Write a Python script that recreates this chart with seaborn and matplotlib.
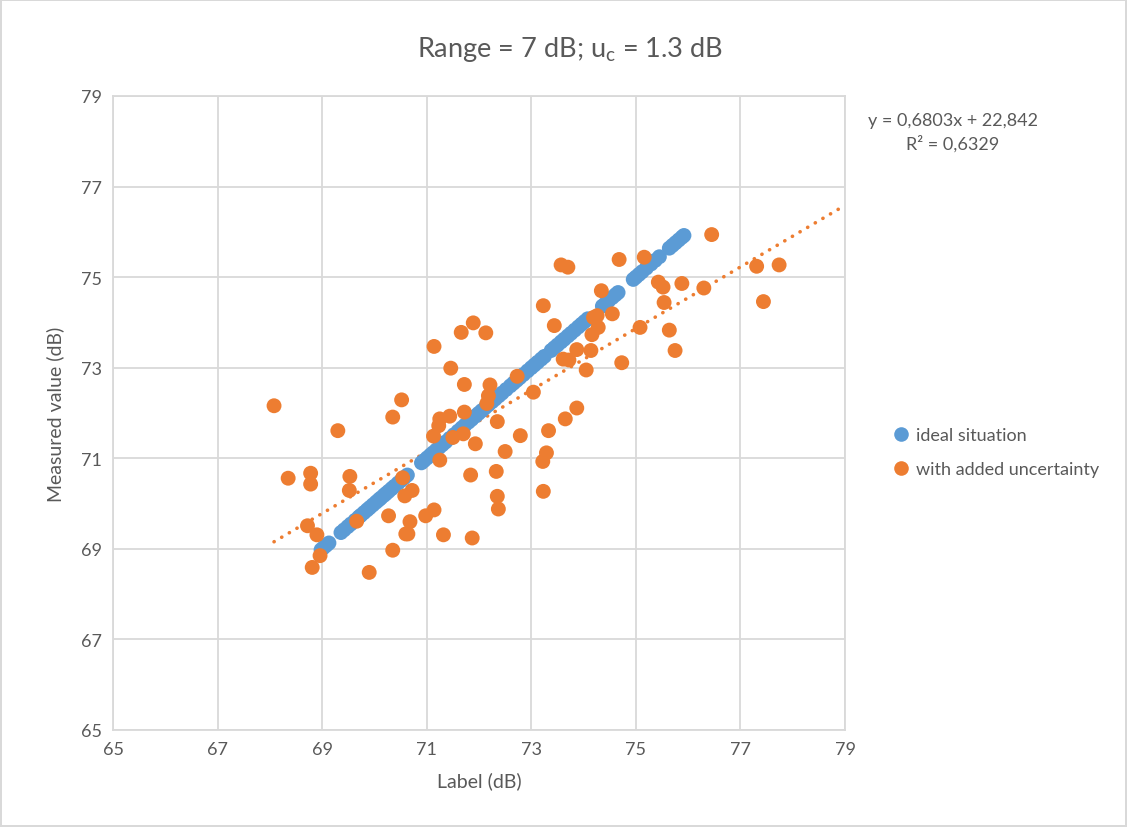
import numpy as np
import pandas as pd
import matplotlib
matplotlib.use("Agg")
import matplotlib.pyplot as plt
import seaborn as sns
from matplotlib.lines import Line2D

# ---------------- data ----------------
ideal_label = [68.98, 69.03, 69.08, 69.13,
               69.36, 69.42, 69.49, 69.55, 69.63, 69.70, 69.74, 69.80, 69.86, 69.91,
               69.97, 70.03, 70.08, 70.12, 70.18, 70.22, 70.27, 70.33, 70.38, 70.45,
               70.51, 70.57, 70.63,
               70.90, 70.95, 71.01, 71.07, 71.12, 71.18, 71.24, 71.30, 71.36, 71.44,
               71.52, 71.60, 71.67, 71.73, 71.80, 71.86, 71.93, 71.99, 72.05, 72.12,
               72.18, 72.25, 72.31, 72.38, 72.44, 72.52, 72.60, 72.66, 72.72, 72.78,
               72.85, 72.93, 73.00, 73.06, 73.12, 73.19, 73.25, 73.38, 73.44, 73.50,
               73.57, 73.63, 73.70, 73.76, 73.83, 73.90, 73.96, 74.02, 74.08,
               74.36, 74.42, 74.48, 74.55, 74.61, 74.66,
               74.95, 75.00, 75.06, 75.12, 75.20, 75.29, 75.37, 75.45,
               75.64, 75.70, 75.76, 75.82, 75.88, 75.92]
ideal_measured = list(ideal_label)  # ideal situation: measured equals label

noisy_label = [68.08, 70.52, 70.35, 69.30, 71.25, 71.44, 71.23, 71.13, 71.50, 71.25,
               68.35, 68.78, 68.78, 69.53, 69.52, 70.54, 70.58, 70.72, 68.72, 68.90,
               69.66, 70.27, 70.68, 70.60, 70.64, 70.98, 71.14, 71.32, 68.96, 68.81,
               70.35, 69.90, 73.23, 71.14, 71.66, 71.89, 72.13, 73.44, 74.19, 74.26,
               74.55, 74.28, 74.16, 71.46, 71.72, 72.21, 72.18, 72.15, 72.73, 73.04,
               73.87, 73.61, 73.72, 74.14, 74.05, 71.72, 71.70, 71.93, 72.35, 72.79,
               72.50, 73.33, 73.29, 73.22, 73.87, 73.65, 71.84, 72.33, 72.35, 72.37,
               73.23, 71.87, 76.45, 74.68, 75.16, 75.43, 75.52, 75.88, 76.30, 77.31,
               77.74, 77.44, 74.34, 75.54, 75.08, 75.64, 75.75, 74.73, 73.57, 73.70]
noisy_measured = [72.16, 72.29, 71.91, 71.61, 71.87, 71.93, 71.72, 71.49, 71.46, 70.96,
                  70.56, 70.67, 70.43, 70.60, 70.29, 70.57, 70.17, 70.29, 69.51, 69.31,
                  69.61, 69.73, 69.60, 69.33, 69.33, 69.73, 69.86, 69.31, 68.85, 68.59,
                  68.97, 68.48, 74.37, 73.47, 73.78, 73.99, 73.77, 73.93, 74.11, 74.15,
                  74.19, 73.89, 73.73, 72.99, 72.63, 72.62, 72.38, 72.21, 72.81, 72.46,
                  73.40, 73.19, 73.17, 73.38, 72.95, 72.02, 71.54, 71.32, 71.81, 71.50,
                  71.15, 71.61, 71.12, 70.93, 72.11, 71.87, 70.63, 70.71, 70.16, 69.88,
                  70.27, 69.24, 75.94, 75.39, 75.44, 74.89, 74.78, 74.86, 74.76, 75.24,
                  75.27, 74.46, 74.70, 74.44, 73.89, 73.83, 73.38, 73.11, 75.27, 75.22]

series_names = ["ideal situation", "with added uncertainty"]
trend_slope = 0.6803
trend_intercept = 22.842
equation_text = "y = 0,6803x + 22,842"
r2_text = "R² = 0,6329"
axis_ticks = [65, 67, 69, 71, 73, 75, 77, 79]
title_text = "Range = 7 dB; u$_\\mathregular{c}$ = 1.3 dB"
x_label = "Label (dB)"
y_label = "Measured value (dB)"

# ---------------- styling ----------------
BLUE = "#5B9BD5"
ORANGE = "#ED7D31"
GRID = "#D9D9D9"
TXT = "#595959"

sns.set_theme(style="white")
plt.rcParams["font.family"] = ["Lato", "DejaVu Sans"]
plt.rcParams["mathtext.fontset"] = "custom"
plt.rcParams["mathtext.rm"] = "Lato"
plt.rcParams["mathtext.it"] = "Lato:italic"

df = pd.DataFrame({
    "label": ideal_label + noisy_label,
    "measured": ideal_measured + noisy_measured,
    "series": [series_names[0]] * len(ideal_label) + [series_names[1]] * len(noisy_label),
})

fig = plt.figure(figsize=(11.27, 8.28), dpi=100)
fig.patch.set_facecolor("white")
fig.patch.set_edgecolor("#D9D9D9")
fig.patch.set_linewidth(1.5)
ax = fig.add_axes([113 / 1127, 1 - 731 / 828, (845 - 113) / 1127, (731 - 97) / 828])

# trendline (linear, forward-forecast to axis end)
tx = np.array([min(noisy_label), axis_ticks[-1]])
ax.plot(tx, trend_slope * tx + trend_intercept, color=ORANGE, lw=2.6,
        linestyle=(0, (0.05, 2.4)), dash_capstyle="round", zorder=2)

sns.scatterplot(data=df, x="label", y="measured", hue="series",
                palette={series_names[0]: BLUE, series_names[1]: ORANGE},
                s=115, linewidth=0, edgecolor="none", alpha=1.0,
                legend=False, ax=ax, zorder=3)

ax.set_xlim(axis_ticks[0], axis_ticks[-1])
ax.set_ylim(axis_ticks[0], axis_ticks[-1])
ax.set_xticks(axis_ticks)
ax.set_yticks(axis_ticks)
ax.grid(True, color=GRID, lw=1.3)
ax.set_axisbelow(True)
for sp in ax.spines.values():
    sp.set_color(GRID)
    sp.set_linewidth(1.3)
ax.tick_params(axis="both", length=0, labelsize=13, labelcolor=TXT, pad=8)
ax.set_xlabel(x_label, fontsize=14, color=TXT, labelpad=10)
ax.set_ylabel(y_label, fontsize=14, color=TXT, labelpad=12)

fig.text(570 / 1127, 1 - 50 / 828, title_text, ha="center", va="center",
         fontsize=19.5, color=TXT)

fig.text(953 / 1127, 1 - 121 / 828, equation_text, ha="center", va="center",
         fontsize=13, color=TXT)
fig.text(953 / 1127, 1 - 144 / 828, r2_text, ha="center", va="center",
         fontsize=13, color=TXT)

handles = [Line2D([0], [0], marker="o", linestyle="none", markersize=10.5,
                  markerfacecolor=c, markeredgecolor="none") for c in (BLUE, ORANGE)]
leg = fig.legend(handles, series_names, loc="center left",
                 bbox_to_anchor=(883 / 1127, 1 - 453 / 828), frameon=False,
                 fontsize=13, handletextpad=0.2, labelspacing=1.0,
                 handlelength=1.2, borderaxespad=0)
for t in leg.get_texts():
    t.set_color(TXT)

fig.savefig("out.png", dpi=100, facecolor=fig.get_facecolor(), edgecolor=fig.get_edgecolor())
